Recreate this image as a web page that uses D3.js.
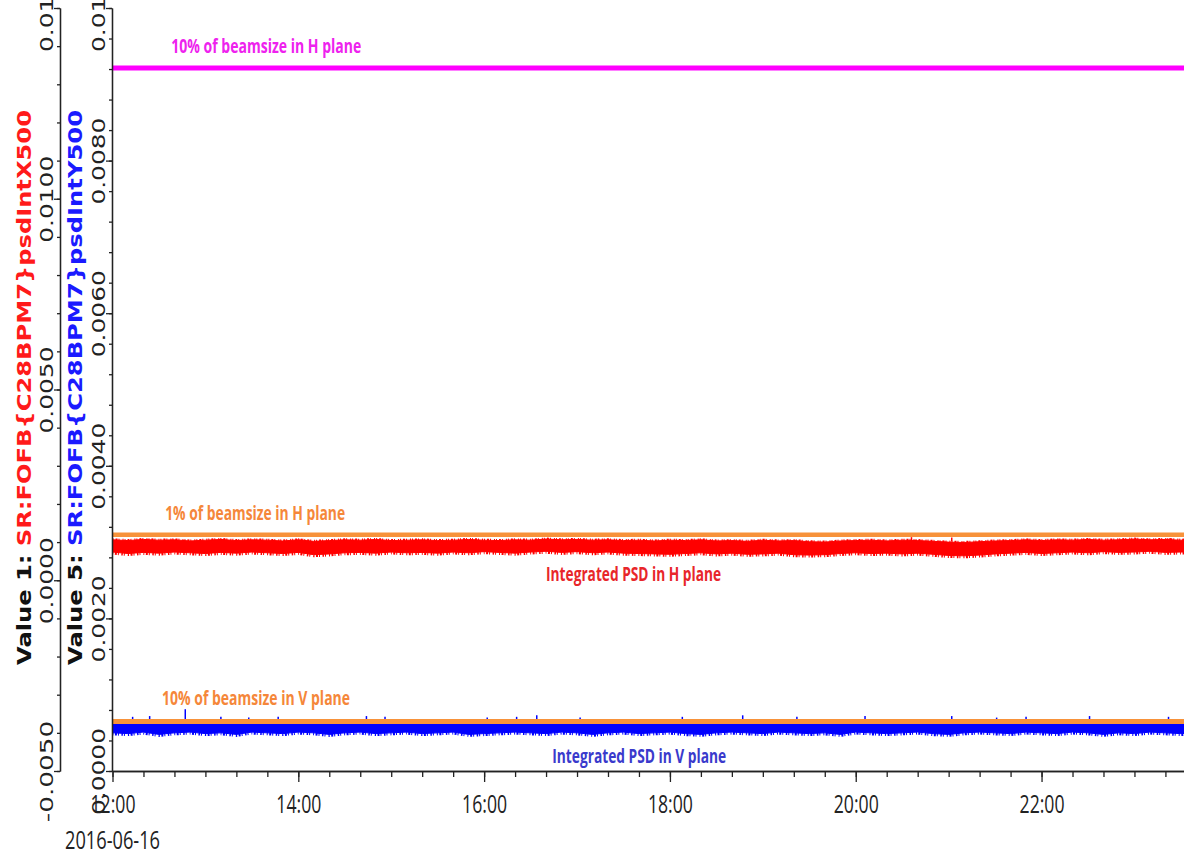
<!DOCTYPE html>
<html>
<head>
<meta charset="utf-8">
<script src="https://cdn.jsdelivr.net/npm/d3@7"></script>
<style>
  body { margin: 0; background: #fff; }
</style>
</head>
<body>
<div id="chart"></div>
<script>
// sample times (10 min bins), 2016-06-16
const day = "2016-06-16"
const times = [
  "12:00","12:10","12:20","12:30","12:40","12:50","13:00","13:10","13:20","13:30",
  "13:40","13:50","14:00","14:10","14:20","14:30","14:40","14:50","15:00","15:10",
  "15:20","15:30","15:40","15:50","16:00","16:10","16:20","16:30","16:40","16:50",
  "17:00","17:10","17:20","17:30","17:40","17:50","18:00","18:10","18:20","18:30",
  "18:40","18:50","19:00","19:10","19:20","19:30","19:40","19:50","20:00","20:10",
  "20:20","20:30","20:40","20:50","21:00","21:10","21:20","21:30","21:40","21:50",
  "22:00","22:10","22:20","22:30","22:40","22:50","23:00","23:10","23:20","23:30","23:40"
]

// Value 1 (psdIntX500) band, max / min per bin, units 1e-4
const redHi = [
  10.6,10.4,10.7,10.5,10.6,10.3,10.5,10.7,10.4,10.6,
  10.5,10.3,10.6,10.2,10.4,10.6,10.5,10.7,10.4,10.5,
  10.6,10.4,10.5,10.7,10.5,10.4,10.6,10.5,10.8,10.6,
  10.7,10.5,10.6,10.4,10.5,10.3,10.5,10.4,10.6,10.3,
  10.4,10.2,10.5,10.3,10.4,10.1,10.0,10.3,10.4,10.5,
  10.3,10.5,10.4,10.2,10.0,9.9,10.1,10.3,10.4,10.6,
  10.4,10.6,10.5,10.7,10.5,10.6,10.8,10.6,10.7,10.5,10.6
]
const redLo = [
  7.4,7.0,7.3,7.1,7.4,7.2,7.0,7.3,7.1,7.4,
  7.2,7.0,7.3,6.7,6.9,7.2,7.3,7.1,7.4,7.2,
  7.3,7.1,7.4,7.2,7.5,7.3,7.1,7.4,7.6,7.3,
  7.5,7.2,7.4,7.1,7.0,6.9,6.8,7.0,7.2,6.9,
  7.1,6.8,6.9,7.1,6.7,6.6,6.7,7.0,7.2,7.0,
  7.1,6.9,7.1,6.8,6.5,6.4,6.6,6.9,7.1,7.3,
  7.0,7.2,7.4,7.2,7.5,7.3,7.4,7.6,7.3,7.4,7.3
]

// Value 5 (psdIntY500) band, units 1e-4
const blueHi = [
  6.3,6.4,6.2,6.3,6.4,6.3,6.2,6.4,6.3,6.3,
  6.4,6.2,6.3,6.4,6.3,6.2,6.3,6.4,6.3,6.2,
  6.3,6.4,6.3,6.2,6.4,6.3,6.3,6.2,6.4,6.3,
  6.2,6.3,6.4,6.3,6.2,6.3,6.4,6.3,6.3,6.2,
  6.4,6.3,6.2,6.3,6.4,6.3,6.2,6.3,6.4,6.3,
  6.3,6.2,6.4,6.3,6.2,6.3,6.4,6.3,6.2,6.3,
  6.4,6.3,6.2,6.3,6.4,6.3,6.3,6.2,6.4,6.3,6.3
]
const blueLo = [
  5.0,4.9,5.1,4.8,5.0,5.1,4.9,5.0,4.8,5.1,
  5.0,4.9,5.1,5.0,4.8,5.0,5.1,4.9,5.0,5.1,
  4.9,5.0,5.1,4.8,4.9,5.0,5.1,5.0,4.9,5.1,
  5.0,4.8,5.0,5.1,4.9,5.0,5.1,4.9,4.8,5.0,
  5.1,5.0,4.9,5.1,5.0,4.9,5.0,4.8,5.1,5.0,
  4.9,5.0,5.1,4.9,4.8,5.0,5.1,5.0,4.9,5.1,
  5.0,4.9,5.1,5.0,4.8,5.0,4.9,5.1,5.0,4.9,5.0
]

// single spikes above the bands, units 1e-4
const redSpikeTimes = ["14:02","17:14","20:36","21:02","23:23"]
const redSpikeValues = [10.9, 10.9, 11.3, 11.2, 11.1]
const blueSpikeTimes = ["12:13","12:24","12:47","13:10","13:28","13:47","14:44","14:56","16:02","16:21",
  "16:34","17:02","18:08","18:47","19:22","20:06","21:02","21:31","21:50","22:31","23:22"]
const blueSpikeValues = [7.1, 7.2, 8.1, 7.1, 7.0, 7.1, 7.2, 7.1, 7.0, 7.1,
  7.3, 7.0, 7.1, 7.3, 7.1, 7.2, 7.2, 7.0, 7.1, 7.2, 7.1]

// beamsize reference levels, units 1e-4
const refNames = ["10% of beamsize in H plane", "1% of beamsize in H plane", "10% of beamsize in V plane"]
const refValues = [134.3, 11.9, 6.49]
const refAxis = ["v1", "v1", "v5"]
const refColors = ["#ff00ff", "#f7923a", "#f7923a"]

// text notes on the plot
const noteTexts = ["10% of beamsize in H plane", "1% of beamsize in H plane", "Integrated PSD in H plane",
  "10% of beamsize in V plane", "Integrated PSD in V plane"]
const noteTimes = ["12:38", "12:34", "16:40", "12:32", "16:44"]
const noteValues = [138.2, 15.8, -0.2, 8.65, 1.05]
const noteAxis = ["v1", "v1", "v1", "v5", "v5"]
const noteColors = ["#ee22ee", "#f5873a", "#e8262a", "#f5873a", "#3a3acc"]
const noteWidths = [190, 180, 175, 188, 174]

const v1Ticks = [-0.005, 0, 0.005, 0.01, 0.015]
const v1Labels = ["-0.0050", "0.0000", "0.0050", "0.0100", "0.0150"]
const v5Ticks = [0, 0.002, 0.004, 0.006, 0.008, 0.01]
const v5Labels = ["0.0000", "0.0020", "0.0040", "0.0060", "0.0080", "0.0100"]
const xTickLabels = ["12:00", "14:00", "16:00", "18:00", "20:00", "22:00"]

const parseTime = d3.timeParse("%Y-%m-%d %H:%M")
const toDate = s => parseTime(day + " " + s)

const dimensions = {
  width: 1184,
  height: 855,
  top: 8,
  bottom: 771,
  plotLeft: 112,
  outerAxis: 60
}

const svg = d3.select("#chart")
  .append("svg")
  .attr("width", dimensions.width)
  .attr("height", dimensions.height)

const xScale = d3.scaleTime()
  .domain([toDate("12:00"), toDate("23:32")])
  .range([dimensions.plotLeft + 0.5, dimensions.width])

const yV1 = d3.scaleLinear()
  .domain([-0.005, 0.015])
  .range([dimensions.bottom, dimensions.top])

const yV5 = d3.scaleLinear()
  .domain([0, 0.01])
  .range([dimensions.bottom, dimensions.top])

const yFor = a => a === "v1" ? yV1 : yV5

svg.append("clipPath").attr("id", "plot-clip")
  .append("rect")
  .attr("x", dimensions.plotLeft)
  .attr("y", 0)
  .attr("width", dimensions.width - dimensions.plotLeft)
  .attr("height", dimensions.bottom)

const plot = svg.append("g").attr("clip-path", "url(#plot-clip)")

const redData = times.map((t, i) => ({ t: toDate(t), hi: redHi[i] * 1e-4, lo: redLo[i] * 1e-4 }))
const blueData = times.map((t, i) => ({ t: toDate(t), hi: blueHi[i] * 1e-4, lo: blueLo[i] * 1e-4 }))

const bandArea = y => d3.area()
  .x(d => xScale(d.t))
  .y0(d => y(d.lo))
  .y1(d => y(d.hi))

const edgeLine = (y, key) => d3.line()
  .x(d => xScale(d.t))
  .y(d => y(d[key]))

// noisy band: filled envelope plus ragged fringe on both edges
const drawBand = (data, y, color) => {
  plot.append("path")
    .datum(data)
    .attr("d", bandArea(y))
    .attr("fill", color)
    .attr("stroke", color)
    .attr("stroke-width", 1)
  ;["hi", "lo"].forEach((key, k) => {
    plot.append("path")
      .datum(data)
      .attr("d", edgeLine(y, key))
      .attr("fill", "none")
      .attr("stroke", color)
      .attr("stroke-width", k === 0 ? 3 : 5)
      .attr("stroke-dasharray", k === 0 ? "1 2 2 1 1 3 1 1" : "1 1.5 2 1 1 2.5 1.5 1 1 3")
  })
}

// H plane
drawBand(redData, yV1, "#ff0000")

plot.selectAll(".red-spike")
  .data(redSpikeTimes)
  .join("line")
  .attr("x1", d => xScale(toDate(d)))
  .attr("x2", d => xScale(toDate(d)))
  .attr("y1", yV1(0.00102))
  .attr("y2", (d, i) => yV1(redSpikeValues[i] * 1e-4))
  .attr("stroke", "#ff0000")
  .attr("stroke-width", 1.5)

// V plane
drawBand(blueData, yV5, "#0000ff")

plot.selectAll(".blue-spike")
  .data(blueSpikeTimes)
  .join("line")
  .attr("x1", d => xScale(toDate(d)))
  .attr("x2", d => xScale(toDate(d)))
  .attr("y1", yV5(0.00062))
  .attr("y2", (d, i) => yV5(blueSpikeValues[i] * 1e-4))
  .attr("stroke", "#0000ff")
  .attr("stroke-width", 1.5)

// reference levels
plot.selectAll(".ref")
  .data(refNames)
  .join("line")
  .attr("x1", xScale.range()[0])
  .attr("x2", dimensions.width)
  .attr("y1", (d, i) => yFor(refAxis[i])(refValues[i] * 1e-4))
  .attr("y2", (d, i) => yFor(refAxis[i])(refValues[i] * 1e-4))
  .attr("stroke", (d, i) => refColors[i])
  .attr("stroke-width", (d, i) => i === 1 ? 4.5 : 5)

svg.selectAll(".note")
  .data(noteTexts)
  .join("text")
  .attr("x", (d, i) => xScale(toDate(noteTimes[i])))
  .attr("y", (d, i) => yFor(noteAxis[i])(noteValues[i] * 1e-4))
  .attr("textLength", (d, i) => noteWidths[i])
  .attr("lengthAdjust", "spacingAndGlyphs")
  .attr("font-family", "'Open Sans', sans-serif")
  .attr("font-weight", "bold")
  .attr("font-size", 20)
  .attr("fill", (d, i) => noteColors[i])
  .text(d => d)

// axes
const axisStyle = g => {
  g.select(".domain").attr("stroke", "#222").attr("stroke-width", 1.3)
  g.selectAll(".tick line").attr("stroke", "#222").attr("stroke-width", 1.3)
}

const rotateLabels = (g, labels) => {
  g.selectAll(".tick text")
    .attr("transform", "rotate(-90)")
    .attr("x", 0)
    .attr("y", -7)
    .attr("dy", 0)
    .attr("text-anchor", "middle")
    .attr("font-family", "'DejaVu Sans', sans-serif")
    .attr("font-size", 18)
    .attr("fill", "#222")
    .attr("textLength", (d, i) => labels[i].length * 14.5)
    .attr("lengthAdjust", "spacingAndGlyphs")
}

// outer axis: Value 1
const outer = svg.append("g").attr("transform", `translate(${dimensions.outerAxis},0)`)
outer.append("g")
  .call(d3.axisLeft(yV1).ticks(20).tickSize(3).tickSizeOuter(0).tickFormat(""))
  .call(axisStyle)
outer.append("g")
  .call(d3.axisLeft(yV1).tickValues(v1Ticks).tickSize(6).tickSizeOuter(0).tickFormat((d, i) => v1Labels[i]))
  .call(axisStyle)
  .call(g => rotateLabels(g, v1Labels))

// inner axis: Value 5
const v5Minor = d3.range(0, 26).map(i => i * 0.0004)
const inner = svg.append("g").attr("transform", `translate(${dimensions.plotLeft},0)`)
inner.append("g")
  .call(d3.axisLeft(yV5).tickValues(v5Minor).tickSize(3).tickSizeOuter(0).tickFormat(""))
  .call(axisStyle)
inner.append("g")
  .call(d3.axisLeft(yV5).tickValues(v5Ticks).tickSize(6).tickSizeOuter(0).tickFormat((d, i) => v5Labels[i]))
  .call(axisStyle)
  .call(g => rotateLabels(g, v5Labels))

// x axis
const xAxisG = svg.append("g").attr("transform", `translate(0,${dimensions.bottom})`)
xAxisG.append("g")
  .call(d3.axisBottom(xScale).ticks(d3.timeMinute.every(20)).tickSize(6).tickSizeOuter(0).tickFormat(""))
  .call(axisStyle)
xAxisG.append("g")
  .call(d3.axisBottom(xScale).tickValues(xTickLabels.map(toDate)).tickSize(11).tickSizeOuter(0)
    .tickFormat((d, i) => xTickLabels[i]))
  .call(axisStyle)
  .call(g => g.selectAll(".tick text")
    .attr("y", 42)
    .attr("dy", 0)
    .attr("font-family", "'Open Sans', sans-serif")
    .attr("font-size", 25)
    .attr("fill", "#222")
    .attr("textLength", 45)
    .attr("lengthAdjust", "spacingAndGlyphs"))

svg.append("text")
  .attr("x", 65)
  .attr("y", 849)
  .attr("font-family", "'Open Sans', sans-serif")
  .attr("font-size", 25)
  .attr("fill", "#222")
  .attr("textLength", 95)
  .attr("lengthAdjust", "spacingAndGlyphs")
  .text(day)

// rotated axis titles
const titles = [
  { x: 31, lead: "Value 1: ", name: "SR:FOFB{C28BPM7}psdIntX500", color: "#ff1a1a" },
  { x: 82, lead: "Value 5: ", name: "SR:FOFB{C28BPM7}psdIntY500", color: "#1a1aff" }
]
titles.forEach(t => {
  const txt = svg.append("text")
    .attr("transform", `translate(${t.x},665) rotate(-90)`)
    .attr("font-family", "'DejaVu Sans', sans-serif")
    .attr("font-weight", "bold")
    .attr("font-size", 19)
    .attr("textLength", 555)
    .attr("lengthAdjust", "spacingAndGlyphs")
  txt.append("tspan").attr("fill", "#111").text(t.lead)
  txt.append("tspan").attr("fill", t.color).text(t.name)
})
</script>
</body>
</html>
